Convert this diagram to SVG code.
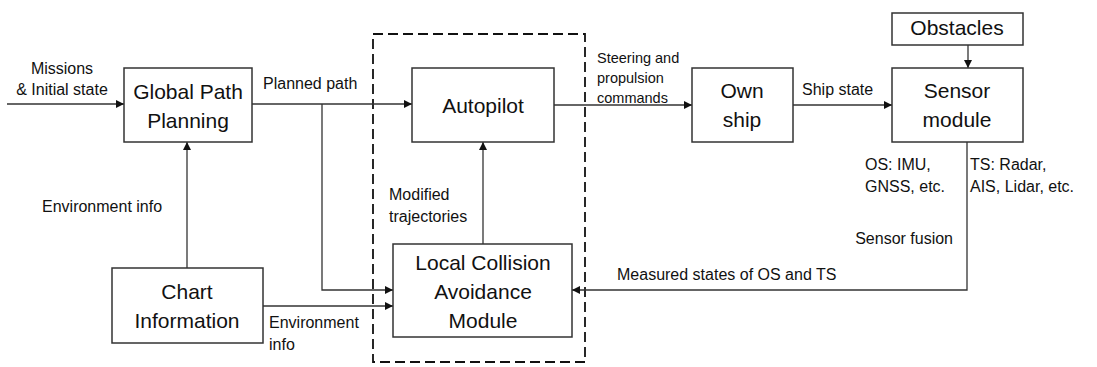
<svg xmlns="http://www.w3.org/2000/svg" width="1097" height="367" viewBox="0 0 1097 367">
<style>
.box{fill:#fff;stroke:#333;stroke-width:1.5}
.ln{fill:none;stroke:#333;stroke-width:1.3}
.big{font-family:"Liberation Sans",Arial,sans-serif;font-size:21px;fill:#111;text-anchor:middle}
.sm{font-family:"Liberation Sans",Arial,sans-serif;font-size:16px;fill:#111}
.xs{font-family:"Liberation Sans",Arial,sans-serif;font-size:14.5px;fill:#111}
</style>
<defs>
<marker id="ah" viewBox="0 0 10 10" refX="10" refY="5" markerWidth="8" markerHeight="8" markerUnits="userSpaceOnUse" orient="auto">
<path d="M0,0 L10,5 L0,10 z" fill="#111"/>
</marker>
</defs>
<rect id="dashed-group" x="373" y="34" width="212" height="328" fill="none" stroke="#111" stroke-width="1.8" stroke-dasharray="10,5"/>
<g id="connectors">
<path class="ln" d="M7,104 H124" marker-end="url(#ah)"/>
<path class="ln" d="M252,104 H412" marker-end="url(#ah)"/>
<path class="ln" d="M322,104 V290 H393" marker-end="url(#ah)"/>
<path class="ln" d="M263,306 H393" marker-end="url(#ah)"/>
<path class="ln" d="M187,268 V142" marker-end="url(#ah)"/>
<path class="ln" d="M483,244 V142" marker-end="url(#ah)"/>
<path class="ln" d="M554,105 H692" marker-end="url(#ah)"/>
<path class="ln" d="M793,105 H892" marker-end="url(#ah)"/>
<path class="ln" d="M968,45 V68" marker-end="url(#ah)"/>
<path class="ln" d="M967,142 V290 H572" marker-end="url(#ah)"/>
</g>
<g id="labels">
<text class="sm" x="62" y="74" text-anchor="middle">Missions</text>
<text class="sm" x="62" y="95" text-anchor="middle">&amp; Initial state</text>
<text class="sm" x="263" y="89">Planned path</text>
<text class="sm" x="42" y="212">Environment info</text>
<text class="sm" x="269" y="328">Environment</text>
<text class="sm" x="269" y="350">info</text>
<text class="sm" x="389" y="200">Modified</text>
<text class="sm" x="389" y="222">trajectories</text>
<text class="xs" x="597" y="63">Steering and</text>
<text class="xs" x="597" y="83">propulsion</text>
<text class="xs" x="597" y="103">commands</text>
<text class="sm" x="802" y="95">Ship state</text>
<text class="sm" x="865" y="170">OS: IMU,</text>
<text class="sm" x="865" y="192">GNSS, etc.</text>
<text class="sm" x="970" y="170">TS: Radar,</text>
<text class="sm" x="970" y="192">AIS, Lidar, etc.</text>
<text class="sm" x="953" y="244" text-anchor="end">Sensor fusion</text>
<text class="sm" x="617" y="280">Measured states of OS and TS</text>
</g>
<g id="global-path-planning">
<rect class="box" x="124" y="68" width="128" height="74"/>
<text class="big" x="188" y="99">Global Path</text>
<text class="big" x="188" y="128">Planning</text>
</g>
<g id="chart-information">
<rect class="box" x="112" y="268" width="151" height="75"/>
<text class="big" x="187" y="299">Chart</text>
<text class="big" x="187" y="328">Information</text>
</g>
<g id="autopilot">
<rect class="box" x="412" y="68" width="142" height="74"/>
<text class="big" x="483" y="113">Autopilot</text>
</g>
<g id="local-collision-avoidance">
<rect class="box" x="393" y="244" width="179" height="93"/>
<text class="big" x="483" y="270">Local Collision</text>
<text class="big" x="483" y="299">Avoidance</text>
<text class="big" x="483" y="328">Module</text>
</g>
<g id="own-ship">
<rect class="box" x="692" y="68" width="101" height="74"/>
<text class="big" x="742" y="98">Own</text>
<text class="big" x="742" y="127">ship</text>
</g>
<g id="sensor-module">
<rect class="box" x="892" y="68" width="131" height="74"/>
<text class="big" x="957" y="98">Sensor</text>
<text class="big" x="957" y="127">module</text>
</g>
<g id="obstacles">
<rect class="box" x="892" y="13" width="131" height="32"/>
<text class="big" x="957" y="35">Obstacles</text>
</g>
</svg>
